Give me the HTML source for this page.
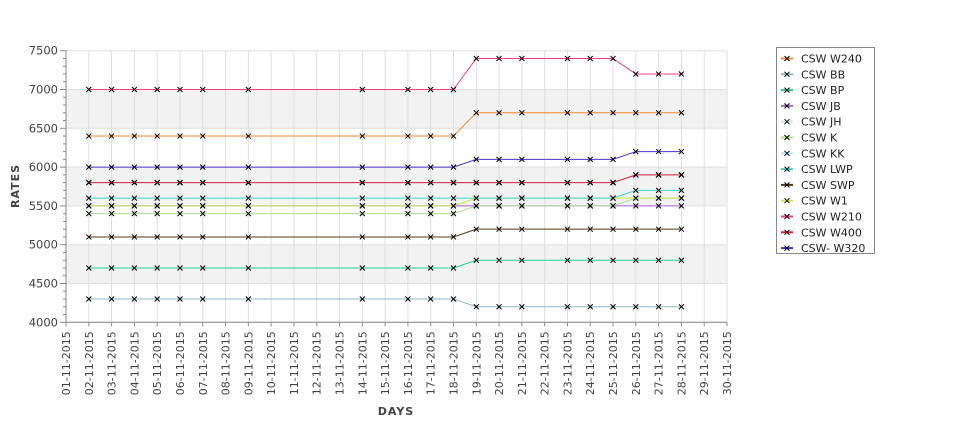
<!DOCTYPE html>
<html><head><meta charset="utf-8"><style>
body{margin:0;background:#fff;font-family:"Liberation Sans","DejaVu Sans",sans-serif}
svg text{font-family:"DejaVu Sans","Liberation Sans",sans-serif}
</style></head><body>
<svg id="c" width="975" height="429" xmlns="http://www.w3.org/2000/svg"></svg>
<script>
const dayLabels=["01","02","03","04","05","06","07","08","09","10","11","12","13","14","15","16","17","18","19","20","21","22","23","24","25","26","27","28","29","30"];
const days=[2,3,4,5,6,7,9,14,16,17,18,19,20,21,23,24,25,26,27,28];
const seriesNames=["CSW  W240","CSW BB","CSW BP","CSW JB","CSW JH","CSW K","CSW KK","CSW LWP","CSW SWP","CSW W1","CSW W210","CSW W400","CSW- W320"];
const seriesColors=["#f28a2e","#8fb8c4","#1fcf9a","#b060e0","#d0e8ea","#a8e090","#b8e8f0","#3ad8d0","#5a3a10","#c8e848","#f0407a","#d82040","#5030d0"];
const yTicks=[4000,4500,5000,5500,6000,6500,7000,7500];
const sW240=[6400,6400,6400,6400,6400,6400,6400,6400,6400,6400,6400,6700,6700,6700,6700,6700,6700,6700,6700,6700];
const sBB=[4300,4300,4300,4300,4300,4300,4300,4300,4300,4300,4300,4200,4200,4200,4200,4200,4200,4200,4200,4200];
const sBP=[4700,4700,4700,4700,4700,4700,4700,4700,4700,4700,4700,4800,4800,4800,4800,4800,4800,4800,4800,4800];
const sJB=[5500,5500,5500,5500,5500,5500,5500,5500,5500,5500,5500,5500,5500,5500,5500,5500,5500,5500,5500,5500];
const sJH=[5800,5800,5800,5800,5800,5800,5800,5800,5800,5800,5800,5800,5800,5800,5800,5800,5800,5900,5900,5900];
const sK=[5400,5400,5400,5400,5400,5400,5400,5400,5400,5400,5400,5500,5500,5500,5500,5500,5500,5600,5600,5600];
const sKK=[5800,5800,5800,5800,5800,5800,5800,5800,5800,5800,5800,5800,5800,5800,5800,5800,5800,5900,5900,5900];
const sLWP=[5600,5600,5600,5600,5600,5600,5600,5600,5600,5600,5600,5600,5600,5600,5600,5600,5600,5700,5700,5700];
const sSWP=[5100,5100,5100,5100,5100,5100,5100,5100,5100,5100,5100,5200,5200,5200,5200,5200,5200,5200,5200,5200];
const sW1=[5500,5500,5500,5500,5500,5500,5500,5500,5500,5500,5500,5600,5600,5600,5600,5600,5600,5600,5600,5600];
const sW210=[7000,7000,7000,7000,7000,7000,7000,7000,7000,7000,7000,7400,7400,7400,7400,7400,7400,7200,7200,7200];
const sW400=[5800,5800,5800,5800,5800,5800,5800,5800,5800,5800,5800,5800,5800,5800,5800,5800,5800,5900,5900,5900];
const sW320=[6000,6000,6000,6000,6000,6000,6000,6000,6000,6000,6000,6100,6100,6100,6100,6100,6100,6200,6200,6200];
const seriesData=[sW240,sBB,sBP,sJB,sJH,sK,sKK,sLWP,sSWP,sW1,sW210,sW400,sW320];
const drawOrder=[4,6,1,2,8,3,5,9,7,11,12,0,10];

const NS="http://www.w3.org/2000/svg",svg=document.getElementById('c');
const X0=66,X1=727,Y0=322.3,Y1=50.7,YMIN=4000,YMAX=7500;
const xs=d=>X0+(d-1)*(X1-X0)/29;
const ys=v=>Y0-(v-YMIN)*(Y0-Y1)/(YMAX-YMIN);
function mk(t,a,p){const e=document.createElementNS(NS,t);for(const k in a)e.setAttribute(k,a[k]);(p||svg).appendChild(e);return e;}
// bands
for(let i=0;i<yTicks.length-1;i++){if(i%2===1){const b=mk('rect',{x:X0,y:ys(yTicks[i+1]),width:X1-X0,height:ys(yTicks[i])-ys(yTicks[i+1]),fill:'#f2f2f2'});

}}
// vertical grid
dayLabels.forEach((l,i)=>{const x=xs(i+1);const g=mk('line',{x1:x,x2:x,y1:Y1,y2:Y0,stroke:'#dedede','stroke-width':1});


const t=mk('text',{x:0,y:0,'font-size':11,fill:'#444','text-anchor':'end',transform:`translate(${x+4},${Y0+9}) rotate(-90)`});t.textContent=l+'-11-2015';


mk('line',{x1:x,x2:x,y1:Y0,y2:Y0+4,stroke:'#888'});});
yTicks.forEach(v=>{const y=ys(v);const g=mk('line',{x1:X0,x2:X1,y1:y,y2:y,stroke:'#dedede'});


mk('line',{x1:X0-6,x2:X0,y1:y,y2:y,stroke:'#888'});
const t=mk('text',{x:X0-8,y:y+4,'font-size':11.5,fill:'#444','text-anchor':'end'});t.textContent=v;

});
for(let v=YMIN;v<YMAX;v+=100){if(v%500)mk('line',{x1:X0-3,x2:X0,y1:ys(v),y2:ys(v),stroke:'#888'});}
mk('line',{x1:X0,x2:X0,y1:Y1,y2:Y0,stroke:'#888'});
mk('line',{x1:X0,x2:X1,y1:Y0,y2:Y0,stroke:'#888'});
// series
drawOrder.forEach(si=>{const d=seriesData[si];const pts=d.map((v,i)=>xs(days[i])+','+ys(v)).join(' ');
const pl=mk('polyline',{points:pts,fill:'none',stroke:seriesColors[si],'stroke-width':1});

});
drawOrder.forEach(si=>{seriesData[si].forEach((v,i)=>{const x=xs(days[i]),y=ys(v);
const m=mk('path',{d:`M${x-2.5},${y-2.5}L${x+2.5},${y+2.5}M${x-2.5},${y+2.5}L${x+2.5},${y-2.5}`,stroke:'#000','stroke-width':1});

});});
// titles
const xt=mk('text',{x:396,y:415,'font-size':11,'font-weight':'bold',fill:'#444','text-anchor':'middle','letter-spacing':'1'});xt.textContent='DAYS';


const yt=mk('text',{x:0,y:0,'font-size':11,'font-weight':'bold',fill:'#444','text-anchor':'middle','letter-spacing':'1',transform:'translate(19,186) rotate(-90)'});yt.textContent='RATES';


// legend
const lb=mk('rect',{x:776.5,y:47.5,width:98,height:206,fill:'#fff',stroke:'#888'});


seriesNames.forEach((n,i)=>{const y=58.5+i*15.8;
const g=mk('g',{});


mk('line',{x1:781,x2:793,y1:y,y2:y,stroke:seriesColors[i],'stroke-width':2},g);
mk('path',{d:`M${784.5},${y-2.5}L${789.5},${y+2.5}M${784.5},${y+2.5}L${789.5},${y-2.5}`,stroke:'#000'},g);
const t=mk('text',{x:801,y:y+4,'font-size':11,fill:'#222'},g);t.textContent=n;});
</script>
</body></html>
